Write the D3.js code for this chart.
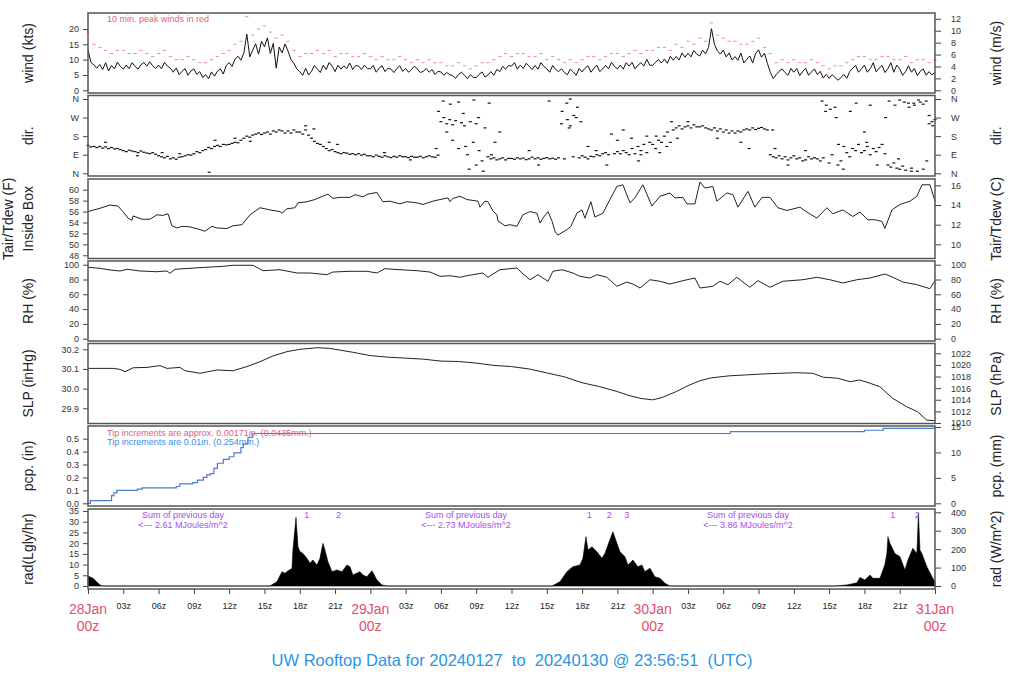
<!DOCTYPE html>
<html><head><meta charset="utf-8">
<script src="https://cdn.jsdelivr.net/npm/d3@7"></script>
<style>body{margin:0;background:#fff}svg{display:block;font-family:"Liberation Sans",Arial,Helvetica,sans-serif}</style>
</head><body><svg id="c" width="1024" height="700"></svg>
<script>
// ---------------- DATA ----------------
// time axis: hours since 28Jan 00z
const windStepH = 0.25;   // wind & direction sampled every 15 min
const gustStepH = 0.5;    // 10-min peak gust shown every 30 min
const windKts = [
13.2,9.1,8.3,7.2, 8.4,6.8,9.0,6.3, 8.1,7.0,9.2,7.8, 6.9,8.2,7.1,9.0, 7.8,6.9,8.3,9.1, 7.9,9.3,8.0,7.1,
8.2,7.0,9.1,7.9, 7.2,5.9,7.3,5.1, 6.2,7.1,4.9,6.3, 7.0,5.2,6.1,4.2, 5.1,3.8,6.0,4.6, 6.2,7.0,5.3,8.1,
9.0,7.8,10.2,11.1, 9.8,12.2,18.3,10.9, 13.1,15.2,11.8,16.0, 14.2,17.1,12.0,15.3, 7.2,14.1,12.2,15.1, 12.8,10.1,8.8,7.0,
6.1,4.9,7.2,5.0, 6.2,8.1,6.9,5.8, 8.2,6.8,9.1,7.9, 6.1,8.2,6.9,8.0, 7.1,8.9,6.8,8.1, 7.9,6.8,8.2,7.1,
7.0,8.1,5.9,7.2, 8.0,6.1,7.2,6.9, 5.8,7.1,8.0,6.2, 7.1,5.9,6.8,7.9, 6.9,5.8,6.2,7.1, 5.9,6.8,5.1,6.2,
6.0,4.9,5.8,5.1, 4.8,3.9,5.2,5.9, 4.9,3.8,5.1,4.2, 4.1,5.2,6.0,4.3, 5.0,6.1,4.9,6.8, 6.1,7.8,6.9,8.1,
7.9,9.0,6.9,8.2, 7.1,8.8,7.9,6.8, 8.1,6.9,9.0,7.8, 7.0,5.9,8.1,6.8, 6.1,7.0,5.8,5.1, 6.9,6.0,4.9,7.1,
6.0,7.2,8.0,5.9, 7.1,8.2,6.1,7.0, 8.1,7.0,9.1,7.8, 7.0,8.2,6.9,9.0, 7.9,9.1,7.0,8.2, 9.0,7.9,10.1,8.2,
8.1,9.2,10.0,8.9, 10.2,8.8,11.1,9.8, 11.0,9.9,12.2,10.8, 12.1,10.9,13.0,11.8, 11.2,13.1,11.9,14.0, 20.1,15.0,12.9,11.8,
13.1,10.9,12.2,9.9, 11.0,9.8,12.1,8.9, 10.1,11.2,8.9,12.0, 13.2,10.8,12.1,8.8, 5.9,3.8,5.1,6.2, 7.0,5.8,4.9,7.1,
5.9,7.1,4.8,6.1, 7.2,4.9,6.0,7.0, 5.1,6.2,4.0,5.2, 3.9,5.1,4.2,3.3, 4.1,5.2,3.9,6.1, 7.2,8.1,5.9,7.0,
8.2,5.9,7.1,9.0, 6.0,7.2,8.1,5.8, 7.1,9.0,5.9,8.2, 7.0,4.9,6.1,8.0, 5.9,7.1,4.8,6.2, 7.0,4.9,6.1,5.0,
6.0];
const gustKts = [
19,15, 14,13, 12,13, 13,12, 12,13, 12,11, 12,13, 11,10, 10,11, 10,9, 9,10, 11,12,
13,15, 16,24, 18,20, 21,19, 17,18, 16,13, 11,12, 12,13, 12,13, 11,12, 12,11, 11,12,
11,10, 11,10, 10,11, 10,9, 10,9, 10,9, 9,8, 8,9, 8,7, 8,9, 9,10, 11,12,
11,12, 12,11, 11,12, 10,11, 10,9, 10,9, 10,11, 11,10, 11,12, 12,11, 12,13, 12,13,
13,14, 14,13, 15,14, 16,15, 17,16, 22,18, 17,16, 16,15, 15,16, 17,14, 12,9, 10,9,
10,9, 9,10, 9,8, 7,8, 8,9, 10,11, 11,10, 10,11, 11,10, 10,11, 9,10, 10,9,
10];
const dirDeg = [
135,128,130,125, 130,122,128,120, 125,118,120,115, 110,105,112,108, 105,100,108,102, 98,95,100,92,
85,80,75,82, 70,75,68,78, 80,85,90,88, 95,105,100,110, 115,125,120,130, 135,130,140,138,
140,145,150,148, 160,170,180,175, 185,190,195,188, 195,200,190,205, 200,210,205,195, 205,195,210,200,
200,190,210,185, 170,155,145,140, 130,120,110,115, 105,100,95,100, 98,92,95,90, 95,88,92,85,
85,80,88,82, 78,85,80,76, 82,78,85,80, 80,76,82,78, 78,82,75,80, 85,80,78,88,
250,270,240,260, 235,255,120,245, 230,90,250,150, 240,110,60,220, 80,70,75,65, 70,75,65,72,
72,68,75,70, 74,66,70,78, 70,75,68,72, 76,70,73,68, 75,240,70,260, 230,80,270,75,
85,78,70,82, 80,90,85,95, 100,90,190,95, 105,95,110,100, 90,120,95,130, 110,140,100,150,
140,120,160,150, 180,200,150,210, 220,230,215,225, 230,220,235,225, 225,230,220,215, 210,220,205,215,
200,210,195,205, 195,205,200,210, 215,210,220,212, 218,222,215,210, 90,80,75,85, 70,80,65,75,
85,70,75,60, 65,80,70,75, 70,60,75,330, 50,90,320,40, 60,130,100,80, 120,110,140,100,
110,130,90,120, 105,125,140,95, 40,30,50,25, 20,35,15,340, 25,330,10,345, 20,350,240,250,
260];
const dirExtraT = [1.5,4.2,6.3,7.8,10.3,10.8,12.5,13.8,18.5,19.2,20.5,21.2,25.2,27.4,
29.6,29.8,30.2,30.5,30.8,31.0,31.5,31.9,32.1,32.4,32.8,33.0,33.2,33.6,34.1,34.3,34.6,35.0,
37.5,38.3,39.2,40.3,40.7,41.0,41.3,41.6,40.9,41.9,42.5,43.2,44.1,45.0,45.5,46.2,46.8,47.0,47.5,
48.3,48.6,49.2,49.6,50.1,51.0,53.5,55.5,56.2,
58.2,58.4,59.5,61.0,62.4,62.7,63.1,63.6,63.8,64.2,64.8,65.3,66.0,66.2,66.5,67.1,67.8,68.1,68.6,68.9,69.0,69.4,69.8,70.0,70.2,70.6,71.0,71.3,71.5,71.8];
const dirExtraDeg = [150,85,100,95,5,160,170,155,230,215,150,140,100,65,
120,300,350,200,335,160,345,290,130,20,355,40,270,10,340,90,150,200,
110,40,350,300,340,360,280,320,220,250,130,110,40,160,210,170,60,90,180,
180,100,130,250,170,250,170,150,120,
210,120,40,110,350,300,310,270,140,20,300,340,200,150,330,40,270,350,330,70,355,345,320,10,340,355,335,60,280,230];
const dirLabels = ["N","E","S","W","N"];
const dirTicks = [0,90,180,270,360];

const tempT = [0,1.02,1.87,2.55,2.97,3.40,3.74,3.83,4.59,5.27,5.86,6.37,6.80,7.14,7.56,7.99,8.67,9.52,9.94,10.54,10.96,11.81,12.32,13.09,13.77,14.62,15.47,16.32,16.49,16.91,17.59,17.85,18.61,19.29,20.40,20.82,21.42,22.27,22.69,23.37,23.80,24.56,25.07,25.67,26.52,27.11,27.96,28.47,29.32,29.92,30.60,30.77,31.02,31.62,32.21,33.15,33.32,33.74,34.00,34.42,34.76,34.85,35.44,35.87,36.46,36.97,37.57,38.16,38.42,38.67,39.10,39.44,39.69,39.95,40.71,41.05,41.56,41.99,42.24,42.75,43.09,43.77,44.37,44.96,45.47,46.07,46.49,47.17,47.94,48.62,49.47,49.89,50.57,50.91,51.59,52.02,52.44,53.12,53.46,54.31,54.82,55.25,56.10,56.69,57.29,57.97,58.65,59.41,60.52,61.11,61.96,62.81,63.32,64.17,65.02,65.62,66.30,66.89,67.49,67.74,68.34,69.02,69.87,70.46,70.89,71.57,72.0];
const tempF = [56.0,56.6,57.2,57.0,56.0,54.8,54.4,55.2,54.6,54.6,55.4,55.3,55.6,53.4,53.0,53.3,53.2,52.7,52.4,53.3,53.0,52.9,53.4,53.6,55.4,56.7,56.3,56.0,55.7,56.5,56.7,57.6,57.8,58.2,59.2,58.4,58.6,58.6,59.1,58.7,59.2,59.5,57.8,57.9,57.4,57.8,57.6,57.3,57.9,58.2,58.5,57.8,58.4,58.8,58.2,57.9,56.8,57.9,57.8,56.1,55.4,54.3,53.4,53.6,53.3,55.4,56.0,55.7,53.9,54.8,56.0,54.3,52.4,51.7,52.7,53.3,55.7,56.3,54.8,57.8,55.0,55.7,58.2,60.6,60.9,57.6,58.5,60.9,57.0,58.8,59.4,58.5,58.6,57.4,57.4,61.4,60.3,60.6,57.9,59.4,59.1,56.8,59.7,56.8,58.6,58.6,56.7,56.2,56.8,55.9,54.8,56.7,55.6,56.3,55.1,55.9,54.5,54.5,54.2,52.9,56.3,57.3,57.9,58.8,60.9,60.9,57.9];

const rhT = [0,1.02,1.87,2.72,3.32,4.42,5.86,6.71,6.97,7.39,8.67,9.52,11.48,12.32,14.02,14.87,16.32,17.76,18.87,20.31,20.82,22.27,23.71,24.56,25.24,26.52,27.96,29.07,29.92,30.77,31.62,32.21,33.57,34.00,34.42,35.02,36.46,36.89,37.57,38.25,38.67,39.10,39.52,40.29,41.22,41.82,42.67,43.26,44.11,44.96,45.81,46.32,46.92,47.77,48.62,49.47,50.57,51.59,52.02,53.12,53.72,54.40,55.16,55.67,56.27,56.95,57.97,59.07,60.77,61.96,63.06,64.17,65.36,66.47,67.74,68.42,69.27,70.46,71.57,72.0];
const rhPct = [96.5,95.1,92.8,91.5,93.8,91.5,90.5,91.5,88.4,93.8,95.1,96.0,97.8,99.2,99.2,91.9,93.2,88.8,88.8,86.5,90.1,91.1,91.1,88.8,94.6,93.2,91.9,90.1,84.3,85.1,83.0,85.1,88.8,83.0,87.4,93.2,95.5,88.8,79.7,86.5,82.0,77.6,91.1,93.2,88.8,84.3,82.0,86.5,83.0,70.8,76.6,73.9,68.5,79.7,77.6,73.9,78.4,82.0,68.5,70.8,77.6,73.0,83.0,76.6,69.5,78.4,69.5,77.6,79.7,83.0,79.7,75.3,79.7,82.0,87.4,83.0,76.6,73.0,67.6,78.4];

const slpT = [0,2.13,2.72,3.15,3.83,5.02,6.12,6.71,7.82,8.25,9.52,10.20,10.96,12.32,13.51,14.62,15.72,16.91,18.02,19.5,20.5,21.5,22.5,24.0,25.5,27.0,28.5,30.0,31.5,33.0,34.5,36.0,37.5,39.0,40.5,42.0,43.5,45.0,46.0,47.0,48.0,48.8,50.0,51.0,52.0,53.0,54.5,56.0,57.5,58.8,60.2,61.6,62.5,63.7,64.8,65.6,66.5,67.3,68.4,69.6,70.5,71.3,72.0];
const slpInHg = [30.103,30.103,30.098,30.086,30.106,30.108,30.117,30.103,30.108,30.091,30.078,30.086,30.095,30.091,30.112,30.137,30.166,30.188,30.200,30.208,30.205,30.195,30.185,30.168,30.160,30.155,30.150,30.140,30.138,30.130,30.118,30.112,30.100,30.080,30.060,30.030,30.010,29.985,29.965,29.950,29.943,29.955,29.985,30.015,30.040,30.055,30.065,30.070,30.075,30.078,30.081,30.078,30.058,30.053,30.035,30.044,30.027,30.010,29.951,29.908,29.883,29.840,29.837];

const pcpT = [0,0.2,1.6,2.0,2.2,2.45,3.8,4.2,4.6,7.5,7.8,8.9,9.3,9.8,10.1,10.4,10.7,11.0,11.5,12.0,12.4,13.0,13.2,13.6,14.0,54.6,66.0,67.6,72.0];
const pcpIn = [0,0.02,0.02,0.06,0.08,0.10,0.10,0.11,0.12,0.13,0.15,0.16,0.18,0.20,0.22,0.23,0.27,0.31,0.34,0.36,0.39,0.43,0.46,0.51,0.54,0.555,0.565,0.58,0.58];

const radT = [0,0.42,1.02,1.27,15.47,16.06,16.49,16.74,17.0,17.34,17.42,17.68,17.85,18.02,18.27,18.61,18.87,19.12,19.46,19.72,19.97,20.14,20.40,20.74,21.16,21.59,22.01,22.27,22.52,23.12,23.37,23.71,24.14,24.56,24.99,25.41,
39.44,40.12,40.71,41.22,41.82,42.07,42.33,42.50,42.84,43.26,43.69,43.94,44.20,44.62,44.96,45.22,45.64,45.90,46.32,46.75,47.09,47.34,47.77,48.19,48.62,49.04,49.47,
63.49,64.51,65.36,65.62,66.04,66.47,66.72,67.32,67.74,67.91,68.00,68.17,68.59,69.02,69.44,69.70,70.12,70.46,70.59,70.72,70.89,71.31,71.74,72.0];
const radLy = [4.7,3.6,0.5,0,0,2.0,6.7,5.9,7.1,8.2,16.8,32,18.3,16,15.2,12.9,10.6,12.1,9.8,12.9,19.9,16.8,11.3,6.7,7.5,6.7,9.8,9.0,5.1,6.7,5.1,4.3,7.1,2.8,0.5,0,
0,2,6.7,9.0,9.8,12.9,23,16.8,18.3,16,12.9,15.2,19.1,25.3,19.9,16,13.7,9.8,12.1,9.0,9.8,6.7,8.3,4.3,3.6,1.3,0,
0,0.5,1.5,4,2.8,5.1,3.6,3.6,10,15.2,23,19.9,15.2,13.7,7.5,12.1,17.6,15.2,33.9,16.8,15,9.0,4.3,2.0];
const radMarkT = [18.6,21.3,42.6,44.3,45.8,68.4,70.5];
const radMarkLabel = ["1","2","1","2","3","1","2"];
const sumT = [8.07,32.13,56.1];
const sumMJ = ["2.61","2.73","3.86"];

const xTicks = [0,3,6,9,12,15,18,21,24,27,30,33,36,39,42,45,48,51,54,57,60,63,66,69,72];
const xTickLabels = ["","03z","06z","09z","12z","15z","18z","21z","","03z","06z","09z","12z","15z","18z","21z","","03z","06z","09z","12z","15z","18z","21z",""];
const dayT = [0,24,48,72];
const dayLabels = ["28Jan","29Jan","30Jan","31Jan"];

// ---------------- DRAW ----------------
const svg = d3.select("#c");
const FONT = "Liberation Sans, Arial, sans-serif";
const x = d3.scaleLinear().domain([0,72]).range([88,935]);

const panels = {
  wind:{top:13,bottom:93,lo:-0.88,hi:25.22},
  dir:{top:95.5,bottom:176,lo:-13.1,hi:377},
  temp:{top:179,bottom:258.5,lo:47.41,hi:61.96},
  rh:{top:261,bottom:341,lo:-3.1,hi:105},
  slp:{top:343.5,bottom:423.5,lo:29.8227,hi:30.2295},
  pcp:{top:426,bottom:506,lo:-0.0209,hi:0.598},
  rad:{top:509,bottom:589,lo:-1.4,hi:35.93}
};
function yS(p){return d3.scaleLinear().domain([p.lo,p.hi]).range([p.bottom,p.top]);}
function yR(p,f){return d3.scaleLinear().domain([f(p.lo),f(p.hi)]).range([p.bottom,p.top]);}

function styleAxis(g){
  g.select(".domain").remove();
  g.selectAll("line").attr("stroke","#444");
  g.selectAll("text").attr("font-size",9).attr("fill","#333").attr("font-family",FONT);
}
function leftAxis(y,vals,fmt){
  const g=svg.append("g").attr("transform","translate(88,0)")
    .call(d3.axisLeft(y).tickValues(vals).tickSize(5).tickPadding(4).tickFormat(fmt));
  styleAxis(g);
}
function rightAxis(y,vals,fmt){
  const g=svg.append("g").attr("transform","translate(935,0)")
    .call(d3.axisRight(y).tickValues(vals).tickSize(6).tickPadding(10).tickFormat(fmt));
  styleAxis(g);
}
function vLabel(txt,xb,p,size){
  const cy=(p.top+p.bottom)/2;
  svg.append("text").attr("transform",`translate(${xb},${cy}) rotate(-90)`)
    .attr("text-anchor","middle").attr("font-size",size||14).attr("fill","#222")
    .attr("font-family",FONT).text(txt);
}

// wind
const yW = yS(panels.wind);
svg.append("path").datum(windKts)
  .attr("d",d3.line().x((d,i)=>x(i*windStepH)).y(d=>yW(d)))
  .attr("fill","none").attr("stroke","#111").attr("stroke-width",1);
svg.append("g").selectAll("line").data(gustKts).join("line")
  .attr("x1",(d,i)=>x(i*gustStepH)-1.6).attr("x2",(d,i)=>x(i*gustStepH)+1.6)
  .attr("y1",d=>yW(d)).attr("y2",d=>yW(d))
  .attr("stroke","#f07a94").attr("stroke-width",0.9);
svg.append("text").attr("x",107).attr("y",22).attr("font-size",9).attr("fill","#e8607c")
  .attr("font-family",FONT).text("10 min. peak winds in red");
leftAxis(yW,[0,5,10,15,20],d3.format("d"));
rightAxis(yR(panels.wind,v=>v*0.514444),[0,2,4,6,8,10,12],d3.format("d"));
vLabel("wind (kts)",33,panels.wind);
vLabel("wind (m/s)",1001,panels.wind);

// direction
const yD = yS(panels.dir);
const dirPts = dirDeg.map((d,i)=>[i*windStepH,d]).concat(dirExtraT.map((t,i)=>[t,dirExtraDeg[i]]));
svg.append("g").selectAll("rect").data(dirPts).join("rect")
  .attr("x",d=>x(d[0])-1.5).attr("y",d=>yD(d[1])-0.6).attr("width",3).attr("height",1.2)
  .attr("fill","#111");
leftAxis(yD,dirTicks,(d,i)=>dirLabels[i]);
rightAxis(yD,dirTicks,(d,i)=>dirLabels[i]);
vLabel("dir.",33,panels.dir);
vLabel("dir.",1001,panels.dir);

// temperature
const yT = yS(panels.temp);
svg.append("path").datum(tempT.map((t,i)=>[t,tempF[i]]))
  .attr("d",d3.line().x(d=>x(d[0])).y(d=>yT(d[1])))
  .attr("fill","none").attr("stroke","#222").attr("stroke-width",1);
leftAxis(yT,[48,50,52,54,56,58,60],d3.format("d"));
rightAxis(yR(panels.temp,v=>(v-32)*5/9),[10,12,14,16],d3.format("d"));
vLabel("Tair/Tdew (F)",13,panels.temp);
vLabel("Inside Box",33,panels.temp);
vLabel("Tair/Tdew (C)",1001,panels.temp);

// RH
const yH = yS(panels.rh);
svg.append("path").datum(rhT.map((t,i)=>[t,rhPct[i]]))
  .attr("d",d3.line().x(d=>x(d[0])).y(d=>yH(d[1])))
  .attr("fill","none").attr("stroke","#222").attr("stroke-width",1);
leftAxis(yH,[0,20,40,60,80,100],d3.format("d"));
rightAxis(yH,[0,20,40,60,80,100],d3.format("d"));
vLabel("RH (%)",33,panels.rh);
vLabel("RH (%)",1001,panels.rh);

// SLP
const yP = yS(panels.slp);
svg.append("path").datum(slpT.map((t,i)=>[t,slpInHg[i]]))
  .attr("d",d3.line().x(d=>x(d[0])).y(d=>yP(d[1])))
  .attr("fill","none").attr("stroke","#222").attr("stroke-width",1);
leftAxis(yP,[29.9,30.0,30.1,30.2],d3.format(".1f"));
rightAxis(yR(panels.slp,v=>v*33.8639),[1010,1012,1014,1016,1018,1020,1022],d3.format("d"));
vLabel("SLP (inHg)",33,panels.slp);
vLabel("SLP (hPa)",1001,panels.slp);

// precipitation
const yC = yS(panels.pcp);
svg.append("path").datum(pcpT.map((t,i)=>[t,pcpIn[i]]))
  .attr("d",d3.line().curve(d3.curveStepAfter).x(d=>x(d[0])).y(d=>yC(d[1])))
  .attr("fill","none").attr("stroke","#4a7cc9").attr("stroke-width",1.2);
svg.append("text").attr("x",107).attr("y",436).attr("font-size",9).attr("fill","#e0607a")
  .attr("font-family",FONT).text("Tip increments are approx. 0.00171in. (0.0435mm.)");
svg.append("text").attr("x",107).attr("y",445).attr("font-size",9).attr("fill","#3a8ee6")
  .attr("font-family",FONT).text("Tip increments are 0.01in. (0.254mm.)");
leftAxis(yC,[0,0.1,0.2,0.3,0.4,0.5],d3.format(".1f"));
rightAxis(yR(panels.pcp,v=>v*25.4),[0,5,10,15],d3.format("d"));
vLabel("pcp. (in)",33,panels.pcp);
vLabel("pcp. (mm)",1001,panels.pcp);

// radiation
const yRad = yS(panels.rad);
svg.append("path").datum(radT.map((t,i)=>[t,radLy[i]]))
  .attr("d",d3.area().x(d=>x(d[0])).y0(yRad(0)).y1(d=>yRad(d[1])))
  .attr("fill","#000").attr("stroke","#000").attr("stroke-width",0.6);
svg.append("g").selectAll("text").data(radMarkT).join("text")
  .attr("x",d=>x(d)).attr("y",518).attr("text-anchor","middle").attr("font-size",9)
  .attr("fill","#a64cf0").attr("font-family",FONT).text((d,i)=>radMarkLabel[i]);
const sumG = svg.append("g").attr("font-size",9).attr("fill","#a64cf0").attr("font-family",FONT).attr("text-anchor","middle");
sumG.selectAll("text.a").data(sumT).join("text").attr("class","a").attr("x",d=>x(d)).attr("y",518).text("Sum of previous day");
sumG.selectAll("text.b").data(sumT).join("text").attr("class","b").attr("x",d=>x(d)).attr("y",528).text((d,i)=>`<--- ${sumMJ[i]} MJoules/m^2`);
leftAxis(yRad,[0,5,10,15,20,25,30,35],d3.format("d"));
rightAxis(yR(panels.rad,v=>v*11.63),[0,100,200,300,400],d3.format("d"));
vLabel("rad(Lgly/hr)",33,panels.rad);
vLabel("rad (W/m^2)",1001,panels.rad);

// frames
Object.values(panels).forEach(p=>{
  svg.append("rect").attr("x",88).attr("y",p.top).attr("width",847).attr("height",p.bottom-p.top)
    .attr("fill","none").attr("stroke","#555").attr("stroke-width",1.5);
});

// x axis
const gx = svg.append("g").attr("transform",`translate(0,${panels.rad.bottom})`)
  .call(d3.axisBottom(x).tickValues(xTicks).tickSize(5).tickPadding(9).tickFormat((d,i)=>xTickLabels[i]));
styleAxis(gx);
gx.selectAll("text").attr("font-size",9).attr("fill","#222");
const dg = svg.append("g").attr("font-family",FONT).attr("font-size",14).attr("fill","#e0506e").attr("text-anchor","middle");
dg.selectAll("text.d").data(dayT).join("text").attr("class","d").attr("x",d=>x(d)).attr("y",614).text((d,i)=>dayLabels[i]);
dg.selectAll("text.z").data(dayT).join("text").attr("class","z").attr("x",d=>x(d)).attr("y",631).text("00z");

// title
svg.append("text").attr("x",512).attr("y",666).attr("text-anchor","middle").attr("font-size",16.5)
  .attr("fill","#2a95e6").attr("font-family",FONT).attr("xml:space","preserve")
  .style("white-space","pre")
  .text("UW Rooftop Data for 20240127  to  20240130 @ 23:56:51  (UTC)");
</script></body></html>
